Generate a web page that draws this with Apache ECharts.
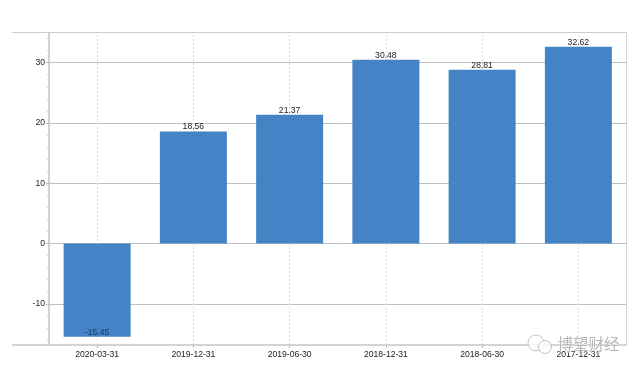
<!DOCTYPE html>
<html><head><meta charset="utf-8">
<style>html,body{margin:0;padding:0;background:#fff}#c{width:640px;height:373px}</style>
<script src="https://cdn.jsdelivr.net/npm/echarts@6/dist/echarts.min.js"></script>
</head><body><div id="c"></div>
<script>
const categories = ['2020-03-31','2019-12-31','2019-06-30','2018-12-31','2018-06-30','2017-12-31'];
const values = [-15.45,18.56,21.37,30.48,28.81,32.62];
const yTicks = [-10,0,10,20,30];
const yMinorTicks = [-16,-14,-12,-8,-6,-4,-2,2,4,6,8,12,14,16,18,22,24,26,28,32,34];
const yMin = -16.83, yMax = 35;
const font = 'Helvetica, "Liberation Sans", Arial, sans-serif';
const chart = echarts.init(document.getElementById('c'), null, {renderer:'canvas'});
chart.setOption({
  animation:false,
  backgroundColor:'#fff',
  grid:{left:49,right:13.5,top:32.5,bottom:28,show:false},
  xAxis:[{
    type:'category',data:categories,position:'bottom',
    axisLine:{onZero:false,show:false},
    axisTick:{show:true,alignWithLabel:true,length:3,lineStyle:{color:'#bbb',width:1}},
    axisLabel:{color:'#222',fontSize:8.6,fontFamily:font,margin:5,interval:0},
    splitLine:{show:false},
  }],
  yAxis:[{
    type:'value',min:yMin,max:yMax,
    axisLine:{show:true,lineStyle:{color:'#c2c2c2',width:1.5}},
    axisTick:{show:true,length:3,lineStyle:{color:'#bbb'},customValues:yTicks},
    axisLabel:{color:'#222',fontSize:8.6,fontFamily:font,margin:4,customValues:yTicks},
    splitLine:{show:false},
  },{
    type:'value',min:yMin,max:yMax,position:'left',
    axisLine:{show:false},
    axisTick:{show:true,length:2,lineStyle:{color:'#d0d0d0'},customValues:yMinorTicks},
    axisLabel:{show:false},
    splitLine:{show:false},
  }],
  series:[{
    type:'bar',barWidth:67,z:2,
    data:values.map(v=>({value:v,label:v<0
      ?{position:'insideBottom',distance:0,color:'#123a66'}
      :{position:'top',distance:0,color:'#222'}})),
    itemStyle:{color:'#4484c6'},
    label:{show:true,fontSize:8.6,fontFamily:font,formatter:p=>p.value.toFixed(2)},
    markLine:{silent:true,symbol:'none',label:{show:false},animation:false,z:1,
      lineStyle:{color:'#c0c0c0',width:1,type:'solid'},
      data:yTicks.map(v=>({yAxis:v})).concat(categories.map(c=>({xAxis:c,lineStyle:{color:'#dcdcdc',width:1,type:[2,2]}})))},
  }],
});
const g = chart.getModel().getComponent('grid').coordinateSystem.getRect();
chart.setOption({graphic:[
  {type:'line',silent:true,z:5,shape:{x1:12,y1:g.y,x2:g.x+g.width,y2:g.y},style:{stroke:'#cdcdcd',lineWidth:1}},
  {type:'line',silent:true,z:5,shape:{x1:12,y1:g.y+g.height,x2:g.x+g.width,y2:g.y+g.height},style:{stroke:'#c4c4c4',lineWidth:1.5}},
  {type:'line',silent:true,z:5,shape:{x1:g.x+g.width,y1:g.y,x2:g.x+g.width,y2:g.y+g.height},style:{stroke:'#d4d4d4',lineWidth:1}},
  {type:'circle',silent:true,z:9,shape:{cx:536,cy:343,r:8},style:{fill:'rgba(255,255,255,0.75)',stroke:'rgba(190,190,190,0.9)',lineWidth:1}},
  {type:'circle',silent:true,z:9,shape:{cx:545,cy:347,r:6.5},style:{fill:'rgba(255,255,255,0.8)',stroke:'rgba(190,190,190,0.9)',lineWidth:1}},
  {type:'text',silent:true,z:9,left:557,top:336,style:{text:'博望财经',fill:'rgba(175,175,175,0.9)',stroke:'rgba(255,255,255,0.6)',lineWidth:1,font:'15.5px "Noto Sans CJK SC"'}},
]});
</script></body></html>
